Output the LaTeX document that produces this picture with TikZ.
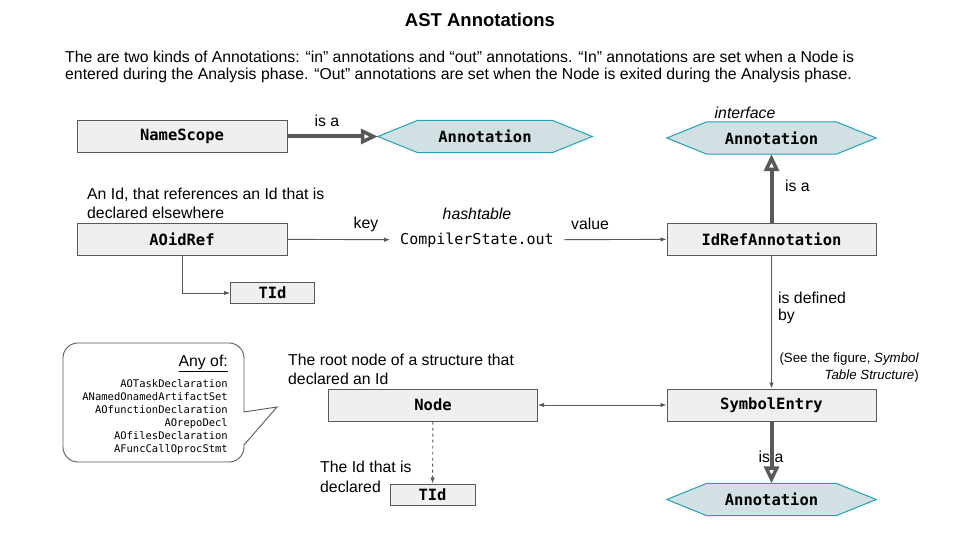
\documentclass[tikz,border=0pt]{standalone}
\usepackage{fontspec}
\setmainfont{Liberation Sans}
\setmonofont{DejaVu Sans Mono}
\usetikzlibrary{arrows.meta,backgrounds}
\definecolor{boxline}{HTML}{595959}
\definecolor{boxfill}{HTML}{EFEFEF}
\definecolor{hexfill}{HTML}{D0E0E3}
\definecolor{hexline}{HTML}{1FA2B4}
\definecolor{arrowgray}{HTML}{595959}
\newcommand\hexshape[1]{%
  \draw[hexdraw] (#1.west) -- ([xshift=40pt]#1.north west) -- ([xshift=-40pt]#1.north east)
    -- (#1.east) -- ([xshift=-40pt]#1.south east) -- ([xshift=40pt]#1.south west) -- cycle;}
\begin{document}
\begin{tikzpicture}[x=1pt,y=-1pt,
  box/.style={draw=boxline, fill=boxfill, line width=1pt, minimum height=32pt,
    inner sep=0pt, font=\ttfamily\bfseries\fontsize{15.5}{18}\selectfont},
  smallbox/.style={box, minimum height=21pt},
  hexlbl/.style={minimum height=32pt, minimum width=209pt, inner sep=0pt,
    font=\ttfamily\bfseries\fontsize{15.5}{18}\selectfont},
  hexdraw/.style={draw=hexline, fill=hexfill, line width=1pt},
  lbl/.style={inner sep=0pt, font=\fontsize{15.8}{18}\selectfont},
  isa/.style={draw=arrowgray, line width=4pt,
    -{Triangle[open, length=17pt, width=15pt, line width=3.5pt]}},
  thin/.style={draw=arrowgray, line width=0.9pt, -{Latex[length=6pt,width=4.5pt]}},
]
\useasboundingbox (0,0) rectangle (960,540);
\begin{scope}[on background layer]
  \fill[white] (0,0) rectangle (960,540);
\end{scope}

% title and intro
\node[inner sep=0pt, font=\bfseries\fontsize{18.5}{22}\selectfont] (title) at (480,20) {AST Annotations};
\node[lbl, anchor=west] (para1) at (65,57) {The are two kinds of Annotations: “in” annotations and “out” annotations. “In” annotations are set when a Node is};
\node[lbl, anchor=west] (para2) at (65,75.5) {entered during the Analysis phase. “Out” annotations are set when the Node is exited during the Analysis phase.};

% boxes
\node[box, minimum width=210pt] (namescope) at (182,136.5) {NameScope};
\node[box, minimum width=210pt] (aoidref) at (182,239) {AOidRef};
\node[smallbox, minimum width=84pt] (tid1) at (272.5,293) {TId};
\node[box, minimum width=209pt] (idref) at (771.5,239) {IdRefAnnotation};
\node[box, minimum width=209pt] (symentry) at (771.5,405) {SymbolEntry};
\node[box, minimum width=209pt] (nodebox) at (433,405) {Node};
\node[smallbox, minimum width=85pt] (tid2) at (432.5,494.5) {TId};

% hexagons
\node[hexlbl, minimum width=214pt] (ann1) at (485,136.5) {Annotation};
\node[hexlbl] (ann2) at (771.5,138) {Annotation};
\node[hexlbl] (ann3) at (771.5,499.5) {Annotation};
\begin{scope}[on background layer]
  \hexshape{ann1}
  \hexshape{ann2}
  \hexshape{ann3}
\end{scope}

% hashtable
\node[inner xsep=10pt, inner ysep=0pt, font=\ttfamily\fontsize{15}{18}\selectfont] (cs) at (477,240) {CompilerState.out};
\node[lbl, font=\itshape\fontsize{15.8}{18}\selectfont] (hashlbl) at (477,214) {hashtable};

% labels
\node[lbl] (isa1) at (327,121) {is a};
\node[lbl, font=\itshape\fontsize{15.8}{18}\selectfont] (iface) at (745,113) {interface};
\node[lbl, anchor=west] (isa2) at (785,186) {is a};
\node[lbl, anchor=west] (idlbl1) at (87,195) {An Id, that references an Id that is};
\node[lbl, anchor=west] (idlbl2) at (87,213) {declared elsewhere};
\node[lbl] (keylbl) at (366,224) {key};
\node[lbl] (vallbl) at (590,224) {value};
\node[lbl, anchor=west] (def1) at (778,298) {is defined};
\node[lbl, anchor=west] (def2) at (778,316) {by};
\node[inner sep=0pt, anchor=east, font=\fontsize{13.3}{15}\selectfont] (see1) at (919,359) {(See the figure, \textit{Symbol}};
\node[inner sep=0pt, anchor=east, font=\fontsize{13.3}{15}\selectfont] (see2) at (919,376) {\textit{Table Structure})};
\node[lbl, anchor=west] (root1) at (288,360) {The root node of a structure that};
\node[lbl, anchor=west] (root2) at (288,379) {declared an Id};
\node[lbl, anchor=west] (decl1) at (320,467) {The Id that is};
\node[lbl, anchor=west] (decl2) at (320,487) {declared};

% speech bubble
\draw[draw=boxline, line width=0.9pt] (244,380) [rounded corners=15pt] -- (244,343) -- (63,343) -- (63,462) -- (244,462) [sharp corners] -- (244,445) -- (277,407) -- (244,412) -- cycle;
\node[lbl, anchor=east] (anyof) at (228,363) {\underline{Any of:}};
\node[inner sep=0pt, anchor=north east, align=right, font=\ttfamily\fontsize{10.5}{13}\selectfont] (list) at (228,379)
  {AOTaskDeclaration\\ANamedOnamedArtifactSet\\AOfunctionDeclaration\\AOrepoDecl\\AOfilesDeclaration\\AFuncCallOprocStmt};

% connectors
\draw[isa] (namescope) -- (ann1);
\draw[isa] (idref) -- (ann2);
\draw[isa] (symentry) -- (ann3);
\draw[thin] (aoidref) -- (cs);
\draw[thin] (cs) -- (idref);
\draw[thin] (aoidref) |- (tid1);
\draw[thin] (idref) -- (symentry);
\draw[thin, {Latex[length=6pt,width=4.5pt]}-{Latex[length=6pt,width=4.5pt]}] (nodebox) -- (symentry);
\draw[thin, dashed] (nodebox) -- (tid2);
\node[lbl] (isa3) at (771,457) {is a};
\end{tikzpicture}
\end{document}
